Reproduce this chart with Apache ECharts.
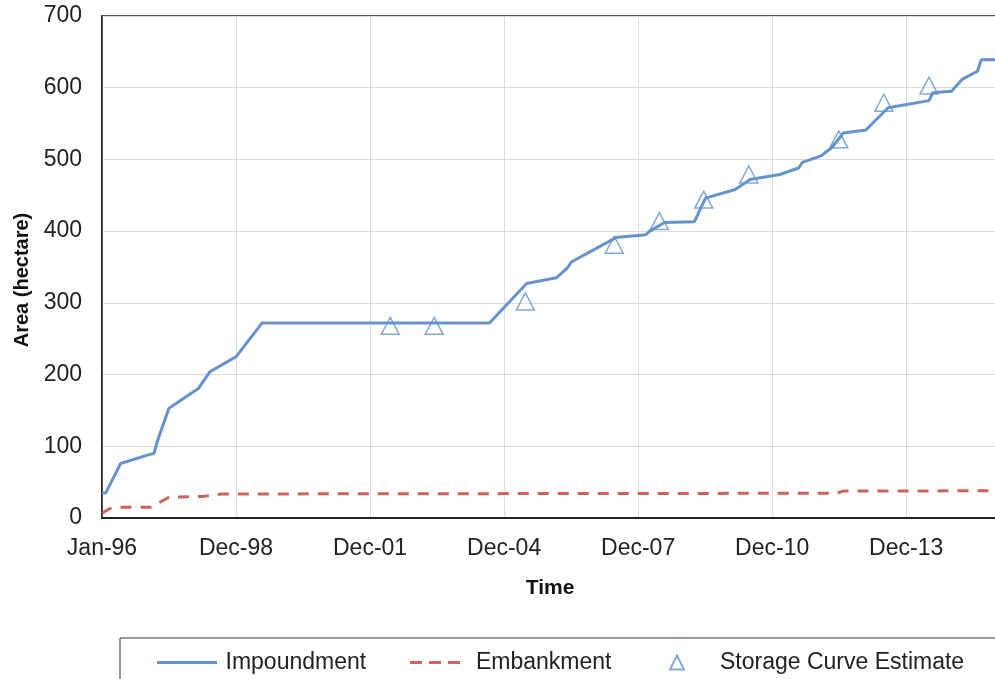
<!DOCTYPE html>
<html>
<head>
<meta charset="utf-8">
<title>Area (hectare) over time</title>
<script src="https://cdn.jsdelivr.net/npm/echarts@6/dist/echarts.min.js"></script>
<style>
  html, body { margin: 0; padding: 0; background: #fff; }
  #main { width: 995px; height: 679px; }
</style>
</head>
<body>
<div id="main"></div>
<script>
// impoundment area (hectare)
var impoundDates = [
  "1996-01", "1996-02", "1996-06", "1997-02", "1997-03", "1997-04", "1997-07",
  "1998-03", "1998-06", "1999-01", "1999-07", "1999-08", "2004-09", "2005-07",
  "2006-03", "2006-06", "2006-07", "2007-02", "2007-07", "2008-03", "2008-04",
  "2008-08", "2009-04", "2009-07", "2010-03", "2010-07", "2011-03", "2011-08",
  "2011-09", "2012-02", "2012-05", "2012-08", "2013-02", "2013-08", "2014-07",
  "2014-08", "2015-01", "2015-04", "2015-08", "2015-09", "2016-01"
];
var impoundValues = [
  35, 35, 76, 89, 90, 109, 153,
  181, 204, 225, 265, 272, 272, 327,
  335, 349, 357, 377, 391, 395, 400,
  412, 413, 446, 458, 472, 479, 488,
  496, 505, 517, 537, 541, 572, 582,
  593, 595, 612, 623, 639, 639
];

// embankment area (hectare)
var embankDates = [
  "1996-01", "1996-03", "1996-06", "1997-02", "1997-07", "1998-04", "1998-09",
  "2005-01", "2012-06", "2012-08", "2016-01"
];
var embankValues = [6.5, 13, 15, 15, 29, 30, 33.5, 34, 34.5, 37.5, 38];

// storage curve estimates (hectare)
var storageDates = [
  "2002-06-13", "2003-06-07", "2005-06-20", "2007-06-17", "2008-06-20",
  "2009-06-17", "2010-06-20", "2012-06-24", "2013-06-27", "2014-07-01"
];
var storageValues = [268, 268, 302, 381, 414, 444, 479, 528, 579, 603];

var monthNames = ["Jan", "Feb", "Mar", "Apr", "May", "Jun", "Jul", "Aug", "Sep", "Oct", "Nov", "Dec"];
var DAY = 86400000;
var origin = Date.UTC(1996, 0, 1);

// date string -> days since 1 Jan 1996
function toDays(s) {
  var p = s.split("-");
  var d = Date.UTC(+p[0], +p[1] - 1, p[2] ? +p[2] : 1);
  return (d - origin) / DAY;
}

function pairs(dates, values) {
  var out = [];
  for (var i = 0; i < dates.length; i++) {
    out.push([toDays(dates[i]), values[i]]);
  }
  return out;
}

function dayLabel(v) {
  var d = new Date(origin + Math.round(v) * DAY);
  var yy = String(d.getUTCFullYear() % 100);
  if (yy.length < 2) yy = "0" + yy;
  return monthNames[d.getUTCMonth()] + "-" + yy;
}

var font = "'Liberation Sans', Arial, sans-serif";
var blue = "#6593cb";
var red = "#cd625b";

// legend icons: solid stroke and three dashes
var solidIcon = "path://M0,0H60V3H0Z";
var dashIcon = "path://M0,0H12V3H0Z M19,0H31V3H19Z M38,0H50V3H38Z";

var myChart = echarts.init(document.getElementById("main"));

var option = {
  animation: false,
  backgroundColor: "#fff",
  textStyle: { fontFamily: font },
  grid: {
    left: 102,
    right: -3,
    top: 16,
    bottom: 161,
    outerBoundsMode: "none",
    show: true,
    borderColor: "#222",
    borderWidth: 1.5
  },
  xAxis: {
    type: "value",
    min: 0,
    max: 7320,
    interval: 1095,
    name: "Time",
    nameLocation: "middle",
    nameGap: 60,
    nameTextStyle: { fontFamily: font, fontSize: 21, fontWeight: "bold", color: "#111" },
    axisLine: { show: true, lineStyle: { color: "#222", width: 2 } },
    axisTick: { show: false },
    axisLabel: {
      fontFamily: font,
      fontSize: 23,
      color: "#222",
      margin: 19,
      showMaxLabel: false,
      formatter: dayLabel
    },
    splitLine: { show: true, lineStyle: { color: "#dcdcdc", width: 1 } }
  },
  yAxis: {
    type: "value",
    min: 0,
    max: 700,
    interval: 100,
    name: "Area (hectare)",
    nameLocation: "middle",
    nameGap: 69,
    nameTextStyle: {
      fontFamily: font,
      fontSize: 20,
      fontWeight: "bold",
      color: "#111",
      padding: [0, 26, 0, 0]
    },
    axisLine: { show: true, lineStyle: { color: "#222", width: 1.5 } },
    axisTick: { show: false },
    axisLabel: { fontFamily: font, fontSize: 23, color: "#222", margin: 20 },
    splitLine: { show: true, lineStyle: { color: "#dcdcdc", width: 1 } }
  },
  legend: [
    {
      left: 152,
      top: 646,
      itemWidth: 61,
      itemHeight: 3,
      data: [{ name: "Impoundment", icon: solidIcon }],
      textStyle: { fontFamily: font, fontSize: 23, color: "#222", padding: [0, 0, 0, 3] }
    },
    {
      left: 405,
      top: 646,
      itemWidth: 50,
      itemHeight: 3,
      data: [{ name: "Embankment", icon: dashIcon }],
      textStyle: { fontFamily: font, fontSize: 23, color: "#222", padding: [0, 0, 0, 11] }
    },
    {
      left: 664,
      top: 646,
      itemWidth: 14,
      itemHeight: 14,
      data: ["Storage Curve Estimate"],
      textStyle: { fontFamily: font, fontSize: 23, color: "#222", padding: [0, 0, 0, 31] }
    }
  ],
  graphic: [
    {
      type: "rect",
      shape: { x: 120, y: 638, width: 885, height: 45 },
      style: { fill: "none", stroke: "#333", lineWidth: 1 }
    }
  ],
  series: [
    {
      name: "Impoundment",
      type: "line",
      symbol: "none",
      data: pairs(impoundDates, impoundValues),
      lineStyle: { color: blue, width: 3 },
      itemStyle: { color: blue },
      z: 3
    },
    {
      name: "Embankment",
      type: "line",
      symbol: "none",
      data: pairs(embankDates, embankValues),
      lineStyle: { color: red, width: 3, type: [11, 9] },
      itemStyle: { color: red },
      z: 2
    },
    {
      name: "Storage Curve Estimate",
      type: "scatter",
      symbol: "triangle",
      symbolSize: [18, 17],
      data: pairs(storageDates, storageValues),
      itemStyle: { color: "rgba(255,255,255,0)", borderColor: blue, borderWidth: 1.5 },
      z: 4
    }
  ]
};

myChart.setOption(option);
window.addEventListener("resize", function () {
  myChart.resize();
});
</script>
</body>
</html>
